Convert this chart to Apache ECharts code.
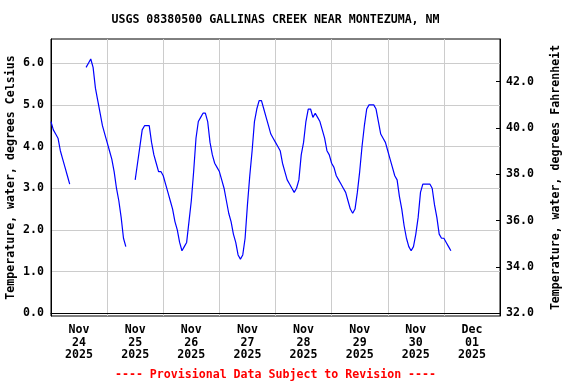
<!DOCTYPE html>
<html><head><meta charset="utf-8">
<script src="https://cdn.jsdelivr.net/npm/echarts@6/dist/echarts.min.js"></script>
<style>html,body{margin:0;padding:0;background:#fff}#c{width:576px;height:384px}</style>
</head><body><div id="c"></div>
<script>
const titleText = 'USGS 08380500 GALLINAS CREEK NEAR MONTEZUMA, NM';
const footerText = '---- Provisional Data Subject to Revision ----';
const leftAxisName = 'Temperature, water, degrees Celsius';
const rightAxisName = 'Temperature, water, degrees Fahrenheit';
// x axis in hours since 2025-11-24 00:00
const dayLabels = ['Nov\n24\n2025','Nov\n25\n2025','Nov\n26\n2025','Nov\n27\n2025','Nov\n28\n2025','Nov\n29\n2025','Nov\n30\n2025','Dec\n01\n2025'];
const dayLabelHours = [12,36,60,84,108,132,156,180];
const gridHours = [0,24,48,72,96,120,144,168,192];
const celsiusTicks = [0,1,2,3,4,5,6];
const fahrenheitTicks = [32,34,36,38,40,42];
// hourly readings (deg C) for each continuous segment
const seg1Start = 0;
const seg1 = [4.6,4.4,4.3,4.2,3.9,3.7,3.5,3.3,3.1];
const seg2Start = 15;
const seg2 = [5.9,6.0,6.1,5.9,5.4,5.1,4.8,4.5,4.3,4.1,3.9,3.7,3.4,3.0,2.7,2.3,1.8,1.6];
const seg3Start = 36;
const seg3 = [3.2,3.6,4.0,4.4,4.5,4.5,4.5,4.1,3.8,3.6,
  3.4,3.4,3.3,3.1,2.9,2.7,2.5,2.2,2.0,1.7,
  1.5,1.6,1.7,2.2,2.7,3.4,4.2,4.6,4.7,4.8,
  4.8,4.6,4.1,3.8,3.6,3.5,3.4,3.2,3.0,2.7,
  2.4,2.2,1.9,1.7,1.4,1.3,1.4,1.8,2.6,3.3,
  3.9,4.6,4.9,5.1,5.1,4.9,4.7,4.5,4.3,4.2,
  4.1,4.0,3.9,3.6,3.4,3.2,3.1,3.0,2.9,3.0,
  3.2,3.8,4.1,4.6,4.9,4.9,4.7,4.8,4.7,4.6,
  4.4,4.2,3.9,3.8,3.6,3.5,3.3,3.2,3.1,3.0,
  2.9,2.7,2.5,2.4,2.5,2.9,3.4,4.0,4.5,4.9,
  5.0,5.0,5.0,4.9,4.6,4.3,4.2,4.1,3.9,3.7,
  3.5,3.3,3.2,2.8,2.5,2.1,1.8,1.6,1.5,1.6,
  1.9,2.3,2.9,3.1,3.1,3.1,3.1,3.0,2.6,2.3,
  1.9,1.8,1.8,1.7,1.6,1.5];

const yMinC = -0.065, yMaxC = 6.58;
const toF = c => c * 1.8 + 32;
const FONT = '"DejaVu Sans Mono", "Liberation Mono", monospace';
const FS = 11.6;

function seg(start, vals) { return vals.map((v, i) => [start + i, v]); }
const lineStyle = { color: '#0000ff', width: 1.2 };
function mkSeries(data) {
  return { type: 'line', data, showSymbol: false, symbol: 'none', lineStyle, itemStyle: { color: '#0000ff' }, animation: false, xAxisIndex: 0, yAxisIndex: 0 };
}

const chart = echarts.init(document.getElementById('c'), null, { renderer: 'canvas' });
chart.setOption({
  animation: false,
  backgroundColor: '#fff',
  textStyle: { fontFamily: FONT, fontWeight: 'bold', fontSize: FS, color: '#000' },
  graphic: [
    { type: 'text', x: 275.5, y: 20, style: { text: titleText, fill: '#000', font: 'bold ' + FS + 'px ' + FONT, textAlign: 'center', textVerticalAlign: 'middle' } },
    { type: 'text', x: 275.5, y: 375, style: { text: footerText, fill: '#ff0000', font: 'bold ' + FS + 'px ' + FONT, textAlign: 'center', textVerticalAlign: 'middle' } }
  ],
  grid: { left: 51, right: 76, top: 39, bottom: 68, outerBoundsMode: 'none', containLabel: false, show: true, borderColor: '#000', borderWidth: 1, backgroundColor: 'transparent' },
  xAxis: {
    type: 'value', min: 0, max: 192,
    axisLine: { show: true, lineStyle: { color: '#000', width: 1 } },
    axisTick: { show: false, customValues: gridHours },
    splitLine: { show: true, lineStyle: { color: '#cccccc', width: 1 } },
    axisLabel: {
      customValues: dayLabelHours,
      formatter: v => dayLabels[dayLabelHours.indexOf(Math.round(v))] || '',
      fontFamily: FONT, fontSize: FS, fontWeight: 'bold', color: '#000', lineHeight: 12.5, margin: 8
    }
  },
  yAxis: [
    {
      type: 'value', min: yMinC, max: yMaxC, position: 'left',
      name: leftAxisName, nameLocation: 'middle', nameRotate: 90, nameGap: 34, nameMoveOverlap: false,
      nameTextStyle: { fontFamily: FONT, fontSize: FS, fontWeight: 'bold', color: '#000' },
      axisLine: { show: true, lineStyle: { color: '#000' } },
      axisTick: { show: false, customValues: celsiusTicks },
      splitLine: { show: true, lineStyle: { color: '#cccccc', width: 1 } },
      axisLabel: { customValues: celsiusTicks, formatter: v => v.toFixed(1), fontFamily: FONT, fontSize: FS, fontWeight: 'bold', color: '#000', margin: 7 }
    },
    {
      type: 'value', min: toF(yMinC), max: toF(yMaxC), position: 'right',
      name: rightAxisName, nameLocation: 'middle', nameRotate: 90, nameGap: 50, nameMoveOverlap: false,
      nameTextStyle: { fontFamily: FONT, fontSize: FS, fontWeight: 'bold', color: '#000' },
      axisLine: { show: true, lineStyle: { color: '#000' } },
      axisTick: { show: true, inside: true, length: 4, customValues: fahrenheitTicks, lineStyle: { color: '#000' } },
      splitLine: { show: false },
      axisLabel: { customValues: fahrenheitTicks, formatter: v => v.toFixed(1), fontFamily: FONT, fontSize: FS, fontWeight: 'bold', color: '#000', margin: 6 }
    }
  ],
  series: [mkSeries(seg(seg1Start, seg1)), mkSeries(seg(seg2Start, seg2)), mkSeries(seg(seg3Start, seg3))]
});
</script></body></html>
